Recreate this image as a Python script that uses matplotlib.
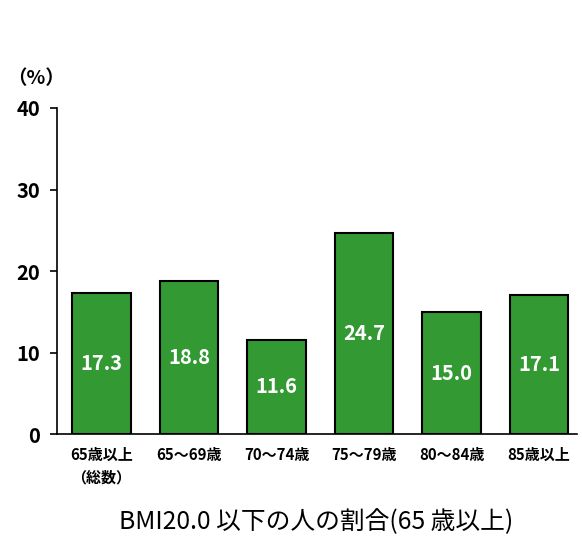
import matplotlib
matplotlib.use("Agg")
import matplotlib.pyplot as plt
import numpy as np

plt.rcParams["font.family"] = ["Noto Sans CJK JP", "DejaVu Sans"]

CATEGORIES = ["65歳以上\n（総数）", "65～69歳", "70～74歳", "75～79歳", "80～84歳", "85歳以上"]
VALUES = [17.3, 18.8, 11.6, 24.7, 15.0, 17.1]
Y_TICKS = [0, 10, 20, 30, 40]
XLABEL = "BMI20.0 以下の人の割合(65 歳以上)"
UNIT = "（%）"

BAR_COLOR = "#339933"


def main() -> None:
    fig = plt.figure(figsize=(5.82, 5.40), dpi=100)
    ax = fig.add_axes([0.098, 0.196, 0.893, 0.604])
    x = np.arange(len(CATEGORIES))
    bars = ax.bar(x, VALUES, width=0.67, color=BAR_COLOR,
                  edgecolor="black", linewidth=1.5, zorder=2)
    for b, v in zip(bars, VALUES):
        ax.text(b.get_x() + b.get_width() / 2, v / 2, f"{v:.1f}",
                ha="center", va="center", color="white",
                fontsize=14.5, fontweight="bold")

    ax.set_xlim(-0.506, 5.43)
    ax.set_ylim(0, 40)
    ax.set_yticks(Y_TICKS)
    ax.set_yticklabels([str(t) for t in Y_TICKS], fontsize=14.5, fontweight="bold")
    ax.set_xticks(x)
    ax.set_xticklabels(CATEGORIES, fontsize=10.8, fontweight="bold", linespacing=1.5)
    ax.tick_params(axis="x", length=0, pad=9)
    ax.tick_params(axis="y", length=5, width=1.2, pad=7)
    for side in ("top", "right"):
        ax.spines[side].set_visible(False)
    ax.spines["left"].set_linewidth(1.2)
    ax.spines["bottom"].set_linewidth(1.2)

    fig.text(0.062, 0.855, UNIT, ha="center", va="center",
             fontsize=14, fontweight="bold")
    fig.text(0.543, 0.033, XLABEL, ha="center", va="center", fontsize=17.8)

    fig.savefig("out.png", dpi=100)
    plt.close(fig)


if __name__ == "__main__":
    main()
